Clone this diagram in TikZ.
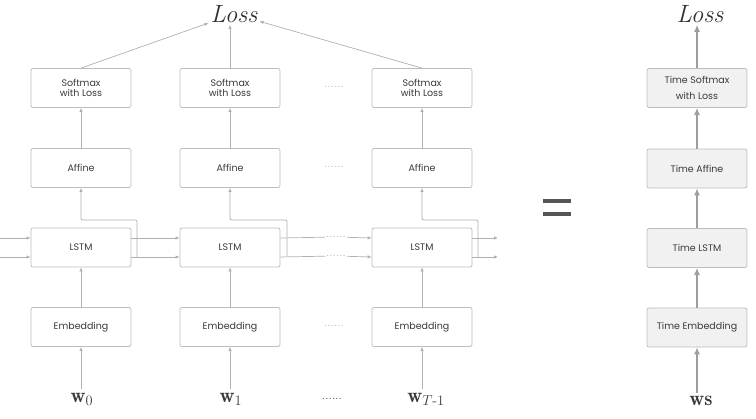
\documentclass[tikz,border=0pt]{standalone}
\usepackage{amsmath}
\usepackage{fontspec}
\setsansfont{Poppins}
\usepackage{tikz}
\usetikzlibrary{arrows.meta}

\definecolor{boxline}{HTML}{BDBDBD}
\definecolor{flowgray}{HTML}{B0B0B0}
\definecolor{timegray}{HTML}{9E9E9E}
\definecolor{textgray}{HTML}{3A3A3A}
\definecolor{timefill}{HTML}{F1F1F1}
\definecolor{eqgray}{HTML}{555555}

\begin{document}
\begin{tikzpicture}[x=1pt,y=-1pt,
  cell/.style={draw=boxline, line width=0.8pt, rounded corners=2pt, fill=white, minimum width=100pt, minimum height=39pt, align=center, text=textgray, font=\sffamily\fontsize{9.5}{10.5}\selectfont},
  timecell/.style={cell, fill=timefill, font=\sffamily\fontsize{9.5}{16}\selectfont},
  flow/.style={draw=flowgray, line width=0.7pt, -{Latex[length=4pt,width=3.5pt]}},
  plain/.style={draw=flowgray, line width=0.7pt},
  timeflow/.style={draw=timegray, line width=1.2pt, -{Latex[length=7pt,width=6pt]}},
  dots/.style={text=flowgray, inner sep=1pt, font=\fontsize{12}{12}\selectfont},
  word/.style={text=textgray, font=\huge},
  lossword/.style={text=textgray!85!black, inner sep=2pt, font=\fontsize{25}{25}\selectfont\itshape}]
\useasboundingbox (0,0) rectangle (756,419);

\node [lossword] (LA) at (234,14) {Loss};
\node [lossword] (LB) at (700,14) {Loss};

\node [cell] (S0) at (81,88) {Softmax\\with Loss};
\node [cell] (S1) at (230,88) {Softmax\\with Loss};
\node [cell] (S2) at (422,88) {Softmax\\with Loss};
\node [cell] (A0) at (81,168) {Affine};
\node [cell] (A1) at (230,168) {Affine};
\node [cell] (A2) at (422,168) {Affine};
\node [cell] (L0) at (81,247.5) {LSTM};
\node [cell] (L1) at (230,247.5) {LSTM};
\node [cell] (L2) at (422,247.5) {LSTM};
\node [cell] (E0) at (81,327) {Embedding};
\node [cell] (E1) at (230,327) {Embedding};
\node [cell] (E2) at (422,327) {Embedding};
\node [word] (W0) at (82,399) {$\mathbf{w}_0$};
\node [word] (W1) at (231,399) {$\mathbf{w}_1$};
\node [word] (W2) at (426,399) {$\mathbf{w}_{T\text{-}1}$};

\node [dots] (D0) at (334,87) {......};
\node [dots] (D1) at (334,167) {......};
\node [dots] (D2) at (336,237) {......};
\node [dots] (D3) at (336,256) {......};
\node [dots] (D4) at (334,326) {......};
\node [dots, text=textgray] (D5) at (332,399) {......};

\node [timecell] (TS) at (697,88) {Time Softmax\\with Loss};
\node [timecell] (TA) at (697,168.5) {Time Affine};
\node [timecell] (TL) at (697,248) {Time LSTM};
\node [timecell] (TE) at (697,327.5) {Time Embedding};
\node [word] (WS) at (701,401) {$\mathbf{ws}$};

% equal sign
\fill [eqgray] (543,199) rectangle (571,203.5);
\fill [eqgray] (543,212) rectangle (571,216.5);

\coordinate (I0) at (0,238);
\coordinate (I1) at (0,257);
\coordinate (O0) at (498,238);
\coordinate (O1) at (498,257);
\coordinate (H0) at (137,257);
\coordinate (K0) at (137,220);
\coordinate (H1) at (287,257);
\coordinate (K1) at (287,220);
\coordinate (H2) at (478,257);
\coordinate (K2) at (478,220);

\draw [flow] (S0.north) -- (LA);
\draw [flow] (S1.north) -- (S1.north |- LA.south);
\draw [flow] (S2.north) -- (LA);

\draw [flow] (A0) -- (S0);
\draw [flow] (A1) -- (S1);
\draw [flow] (A2) -- (S2);
\draw [flow] (E0) -- (L0);
\draw [flow] (E1) -- (L1);
\draw [flow] (E2) -- (L2);
\draw [flow] (W0.north -| E0.south) -- (E0);
\draw [flow] (W1.north -| E1.south) -- (E1);
\draw [flow] (W2.north -| E2.south) -- (E2);

\draw [flow] (I0) -- ([yshift=9.5pt]L0.west);
\draw [flow] (I1) -- ([yshift=-9.5pt]L0.west);
\draw [flow] ([yshift=9.5pt]L0.east) -- ([yshift=9.5pt]L1.west);
\draw [flow] ([yshift=-9.5pt]L0.east) -- ([yshift=-9.5pt]L1.west);
\draw [plain] ([yshift=9.5pt]L1.east) -- (D2);
\draw [plain] ([yshift=-9.5pt]L1.east) -- (D3);
\draw [flow] (D2) -- ([yshift=9.5pt]L2.west);
\draw [flow] (D3) -- ([yshift=-9.5pt]L2.west);
\draw [flow] ([yshift=9.5pt]L2.east) -- (O0);
\draw [flow] ([yshift=-9.5pt]L2.east) -- (O1);

\draw [flow, rounded corners=2pt] (H0) -- (K0) -| (A0);
\draw [flow, rounded corners=2pt] (H1) -- (K1) -| (A1);
\draw [flow, rounded corners=2pt] (H2) -- (K2) -| (A2);

\draw [timeflow] (TE.south |- WS.north) -- (TE);
\draw [timeflow] (TE) -- (TL);
\draw [timeflow] (TL) -- (TA);
\draw [timeflow] (TA) -- (TS);
\draw [timeflow] (TS) -- (TS.north |- LB.south);
\end{tikzpicture}
\end{document}
